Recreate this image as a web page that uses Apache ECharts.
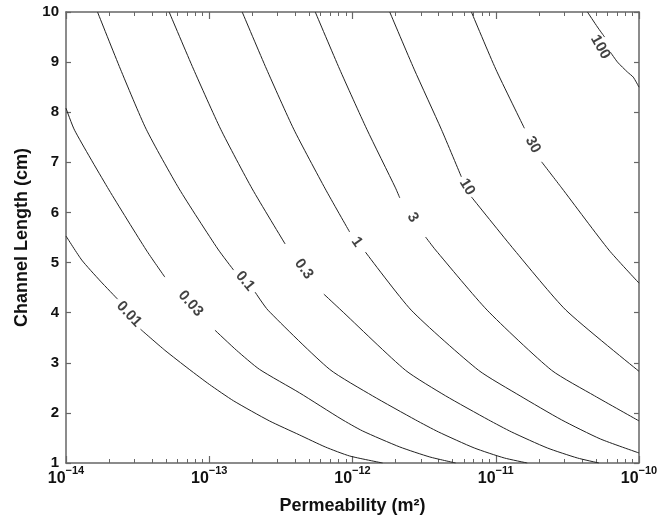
<!DOCTYPE html>
<html>
<head>
<meta charset="utf-8">
<script src="https://cdn.jsdelivr.net/npm/echarts@6/dist/echarts.min.js"></script>
<style>
  html, body { margin: 0; padding: 0; background: #fff; }
  #main { width: 671px; height: 524px; }
</style>
</head>
<body>
<div id="main"></div>
<script>
// contour lines: log10 of permeability (m^2) and channel length (cm)
// a null splits the line where its label sits
const c001_logK = [-14.00, -13.89, -13.76, -13.64, null, -13.48, -13.31, -13.14, -13.00, -12.83, -12.58, -12.37, -12.19, -12.02, -11.79]
const c001_len  = [5.53, 5.05, 4.63, 4.27, null, 3.67, 3.25, 2.87, 2.57, 2.24, 1.84, 1.56, 1.32, 1.14, 1.00]

const c003_logK = [-14.00, -13.94, -13.70, -13.44, -13.31, null, -12.96, -12.81, -12.65, -12.37, -12.08, -11.93, -11.67, -11.46, -11.28]
const c003_len  = [8.08, 7.64, 6.45, 5.25, 4.71, null, 3.65, 3.25, 2.87, 2.40, 1.88, 1.64, 1.32, 1.12, 1.00]

const c01_logK = [-13.78, -13.62, -13.44, -13.21, -12.94, -12.83, null, -12.68, -12.59, -12.16, -11.86, -11.56, -11.40, -11.15, -10.94, -10.78]
const c01_len  = [10.00, 8.86, 7.66, 6.47, 5.27, 4.85, null, 4.41, 4.05, 2.87, 2.34, 1.86, 1.62, 1.30, 1.10, 1.00]

const c03_logK = [-13.28, -13.11, -12.92, -12.70, -12.47, null, -12.20, -12.08, -11.63, -11.35, -11.05, -10.89, -10.64, -10.43, -10.28]
const c03_len  = [10.00, 8.86, 7.66, 6.47, 5.37, null, 4.37, 4.05, 2.85, 2.34, 1.86, 1.62, 1.30, 1.10, 1.00]

const c1_logK = [-12.77, -12.60, -12.41, -12.19, -12.02, null, -11.91, -11.59, -11.12, -10.83, -10.54, -10.27, -10.00]
const c1_len  = [10.00, 8.86, 7.66, 6.47, 5.61, null, 5.21, 4.05, 2.85, 2.34, 1.86, 1.48, 1.20]

const c3_logK = [-12.26, -12.09, -11.90, -11.70, -11.67, null, -11.49, -11.42, -11.06, -10.61, -10.31, -10.00]
const c3_len  = [10.00, 8.86, 7.66, 6.49, 6.29, null, 5.51, 5.25, 4.05, 2.85, 2.34, 1.84]

const c10_logK = [-11.74, -11.57, -11.38, -11.24, null, -11.17, -10.87, -10.51, -10.00]
const c10_len  = [10.00, 8.86, 7.66, 6.71, null, 6.31, 5.25, 4.05, 2.83]

const c30_logK = [-11.17, -11.00, -10.80, null, -10.68, -10.54, -10.21, -10.00]
const c30_len  = [10.00, 8.86, 7.68, null, 7.01, 6.49, 5.25, 4.59]

const c100_logK = [-10.36, -10.29, -10.24, null, -10.20, -10.15, -10.08, -10.04, -10.00]
const c100_len  = [10.00, 9.70, 9.50, null, 9.20, 9.00, 8.80, 8.70, 8.50]

// contour labels
const labelText = ['0.01', '0.03', '0.1', '0.3', '1', '3', '10', '30', '100']
const labelLogK = [-13.56, -13.13, -12.75, -12.34, -11.97, -11.58, -11.20, -10.74, -10.27]
const labelLen  = [3.97, 4.18, 4.63, 4.87, 5.41, 5.90, 6.51, 7.35, 9.30]

// axis ticks
const decadeExp = [-14, -13, -12, -11, -10]
const yTicks = [1, 2, 3, 4, 5, 6, 7, 8, 9, 10]

const contours = [
  [c001_logK, c001_len], [c003_logK, c003_len], [c01_logK, c01_len],
  [c03_logK, c03_len], [c1_logK, c1_len], [c3_logK, c3_len],
  [c10_logK, c10_len], [c30_logK, c30_len], [c100_logK, c100_len]
]

const FONT = 'Liberation Sans, Arial, Helvetica, sans-serif'
const AXIS_COLOR = '#666'
const LINE_COLOR = '#222'
const TEXT_COLOR = '#111'

const majorX = decadeExp.map(e => Math.pow(10, e))
const minorX = []
decadeExp.slice(0, -1).forEach(e => {
  for (let m = 2; m <= 9; m++) minorX.push(m * Math.pow(10, e))
})

// split each contour at its null into segments
const segments = []
contours.forEach(([lk, ln], ci) => {
  let cur = []
  lk.forEach((e, i) => {
    if (e === null) { segments.push({ ci, pts: cur }); cur = [] }
    else cur.push([Math.pow(10, e), ln[i]])
  })
  segments.push({ ci, pts: cur })
})

const xBase = {
  type: 'log', logBase: 10, min: 1e-14, max: 1e-10, gridIndex: 0,
  splitLine: { show: false }
}
const xAxes = [
  Object.assign({}, xBase, {
    position: 'bottom',
    axisLine: { show: true, lineStyle: { color: AXIS_COLOR, width: 1.5 } },
    axisTick: { show: true, inside: true, length: 7, customValues: majorX, lineStyle: { color: AXIS_COLOR, width: 1.2 } },
    axisLabel: {
      customValues: majorX, margin: 2,
      formatter: v => '{b|10}{s|' + Math.round(Math.log10(v)).toString().replace('-', '\u2212') + '}',
      rich: {
        b: { fontFamily: FONT, fontSize: 16, fontWeight: 'bold', color: TEXT_COLOR, verticalAlign: 'bottom', lineHeight: 22 },
        s: { fontFamily: FONT, fontSize: 11, fontWeight: 'bold', color: TEXT_COLOR, verticalAlign: 'top', lineHeight: 22, padding: [0, 0, 9, 0] }
      }
    },
    name: 'Permeability (m\u00b2)', nameLocation: 'middle', nameGap: 34,
    nameTextStyle: { fontFamily: FONT, fontSize: 18, fontWeight: 'bold', color: TEXT_COLOR }
  }),
  Object.assign({}, xBase, {
    position: 'bottom',
    axisLine: { show: false },
    axisTick: { show: true, inside: true, length: 4, customValues: minorX, lineStyle: { color: AXIS_COLOR, width: 1 } },
    axisLabel: { show: false }
  }),
  Object.assign({}, xBase, {
    position: 'top',
    axisLine: { show: true, lineStyle: { color: AXIS_COLOR, width: 1.5 } },
    axisTick: { show: true, inside: true, length: 7, customValues: majorX, lineStyle: { color: AXIS_COLOR, width: 1.2 } },
    axisLabel: { show: false }
  }),
  Object.assign({}, xBase, {
    position: 'top',
    axisLine: { show: false },
    axisTick: { show: true, inside: true, length: 4, customValues: minorX, lineStyle: { color: AXIS_COLOR, width: 1 } },
    axisLabel: { show: false }
  })
]

const yBase = { type: 'value', min: 1, max: 10, interval: 1, gridIndex: 0, splitLine: { show: false } }
const yAxes = [
  Object.assign({}, yBase, {
    position: 'left',
    axisLine: { show: true, lineStyle: { color: AXIS_COLOR, width: 1.5 } },
    axisTick: { show: true, inside: true, length: 5, lineStyle: { color: AXIS_COLOR, width: 1.2 } },
    axisLabel: { margin: 7, fontFamily: FONT, fontSize: 15, fontWeight: 'bold', color: TEXT_COLOR, customValues: yTicks },
    name: 'Channel Length (cm)', nameLocation: 'middle', nameGap: 34,
    nameTextStyle: { fontFamily: FONT, fontSize: 18, fontWeight: 'bold', color: TEXT_COLOR }
  }),
  Object.assign({}, yBase, {
    position: 'right',
    axisLine: { show: true, lineStyle: { color: AXIS_COLOR, width: 1.5 } },
    axisTick: { show: true, inside: true, length: 5, lineStyle: { color: AXIS_COLOR, width: 1.2 } },
    axisLabel: { show: false }
  })
]

const chart = echarts.init(document.getElementById('main'))
const lineSeries = segments.map(s => ({
  type: 'line',
  name: labelText[s.ci],
  xAxisIndex: 0, yAxisIndex: 0,
  data: s.pts,
  symbol: 'none',
  smooth: 0.2,
  silent: true,
  lineStyle: { color: LINE_COLOR, width: 1 }
}))

chart.setOption({
  animation: false,
  backgroundColor: '#fff',
  grid: { left: 66, right: 32, top: 12, bottom: 61 },
  xAxis: xAxes,
  yAxis: yAxes,
  series: lineSeries
})

// rotate each label along its line, using two points either side of the gap
const labelData = labelText.map((t, i) => {
  const [lk, ln] = contours[i]
  const g = lk.indexOf(null)
  const i0 = Math.max(0, g - 2)
  const i1 = Math.min(lk.length - 1, g + 2)
  const a = chart.convertToPixel({ gridIndex: 0 }, [Math.pow(10, lk[i0]), ln[i0]])
  const b = chart.convertToPixel({ gridIndex: 0 }, [Math.pow(10, lk[i1]), ln[i1]])
  const ang = Math.atan2(b[1] - a[1], b[0] - a[0]) * 180 / Math.PI
  return {
    value: [Math.pow(10, labelLogK[i]), labelLen[i]],
    label: { formatter: t, rotate: -ang }
  }
})

chart.setOption({
  series: lineSeries.concat([{
    type: 'scatter',
    xAxisIndex: 0, yAxisIndex: 0,
    symbolSize: 0,
    silent: true,
    data: labelData,
    label: {
      show: true, position: 'inside',
      fontFamily: FONT, fontSize: 15, fontWeight: 'bold', color: TEXT_COLOR
    }
  }])
})
</script>
</body>
</html>
